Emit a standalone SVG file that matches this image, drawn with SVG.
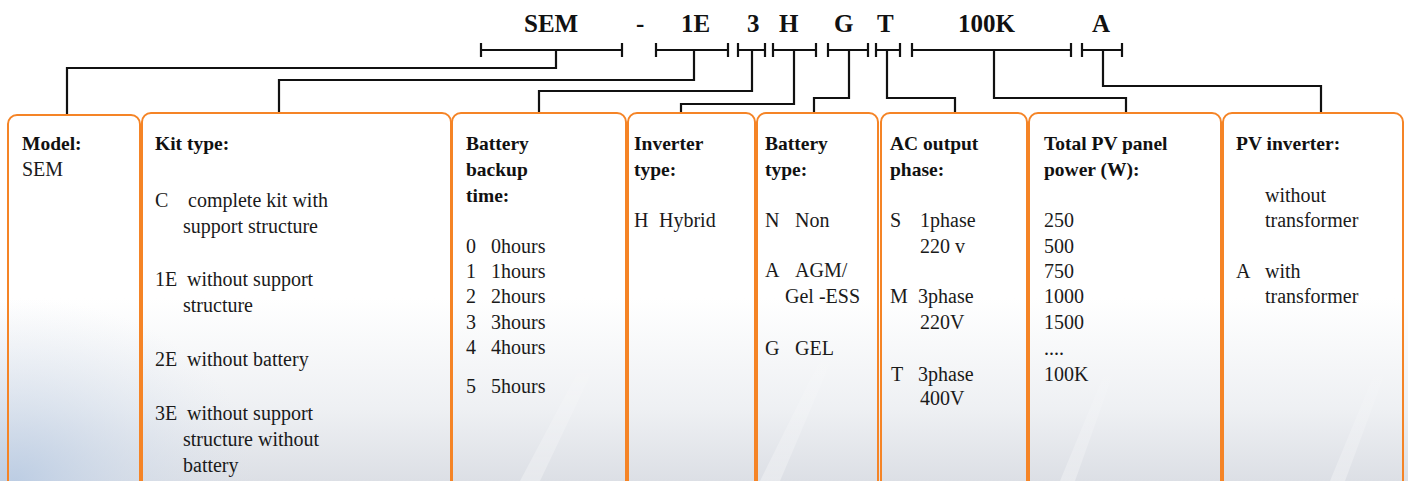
<svg xmlns="http://www.w3.org/2000/svg" width="1408" height="481" viewBox="0 0 1408 481">
<defs>
<linearGradient id="bg" x1="0" y1="0" x2="0" y2="1">
<stop offset="0" stop-color="#ffffff"/>
<stop offset="0.62" stop-color="#ffffff"/>
<stop offset="0.85" stop-color="#eef0f3"/>
<stop offset="1" stop-color="#dcdfe5"/>
</linearGradient>
<radialGradient id="blue" cx="0.02" cy="1" r="0.35" gradientTransform="scale(1,2.9) translate(0,-0.655)">
<stop offset="0" stop-color="#b9cbe3" stop-opacity="0.9"/>
<stop offset="1" stop-color="#dfe6f0" stop-opacity="0"/>
</radialGradient>
<linearGradient id="streak" x1="0" y1="1" x2="0" y2="0">
<stop offset="0" stop-color="#ffffff" stop-opacity="0.8"/>
<stop offset="1" stop-color="#ffffff" stop-opacity="0"/>
</linearGradient>
</defs>
<style>
.box{fill:none;stroke:#F58426;stroke-width:2}
.ln{fill:none;stroke:#111;stroke-width:2.2;stroke-linecap:square}
.hd{font-family:"Liberation Serif",serif;font-weight:bold;font-size:25px;fill:#111}
.b{font-family:"Liberation Serif",serif;font-weight:bold;font-size:19.5px;fill:#111}
.t{font-family:"Liberation Serif",serif;font-size:20px;fill:#1a1a1a}
</style>
<rect x="0" y="0" width="1408" height="481" fill="url(#bg)"/>
<rect x="0" y="300" width="700" height="181" fill="url(#blue)"/>
<g opacity="0.4">
<path d="M520 481 L600 330 L612 330 L540 481 Z" fill="url(#streak)"/>
<path d="M760 481 L830 340 L840 340 L780 481 Z" fill="url(#streak)"/>
<path d="M1060 481 L1110 360 L1118 360 L1075 481 Z" fill="url(#streak)"/>
<path d="M1330 481 L1380 360 L1390 360 L1345 481 Z" fill="url(#streak)"/>
</g>

<g id="header">
<text class="hd" x="524" y="32">SEM</text>
<text class="hd" x="636" y="32">-</text>
<text class="hd" x="681" y="32">1E</text>
<text class="hd" x="747" y="32">3</text>
<text class="hd" x="779" y="32">H</text>
<text class="hd" x="834" y="32">G</text>
<text class="hd" x="877" y="32">T</text>
<text class="hd" x="958" y="32">100K</text>
<text class="hd" x="1092" y="32">A</text>
</g>

<g id="connectors">
<path class="ln" d="M481 50 H622 M481 44 V56 M622 44 V56"/>
<path class="ln" d="M556 50 V68 H67 V115"/>
<path class="ln" d="M656 50 H728 M656 44 V56 M728 44 V56"/>
<path class="ln" d="M694 50 V80 H279 V113"/>
<path class="ln" d="M738 50 H765 M738 44 V56 M765 44 V56"/>
<path class="ln" d="M752 50 V91 H539 V113"/>
<path class="ln" d="M773 50 H816 M773 44 V56 M816 44 V56"/>
<path class="ln" d="M794 50 V104 H681 V113"/>
<path class="ln" d="M828 50 H868 M828 44 V56 M868 44 V56"/>
<path class="ln" d="M849 50 V98 H814 V113"/>
<path class="ln" d="M876 50 H900 M876 44 V56 M900 44 V56"/>
<path class="ln" d="M887 50 V98 H955 V113"/>
<path class="ln" d="M912 50 H1071 M912 44 V56 M1071 44 V56"/>
<path class="ln" d="M994 50 V98 H1126 V113"/>
<path class="ln" d="M1082 50 H1122 M1082 44 V56 M1122 44 V56"/>
<path class="ln" d="M1103 50 V86 H1321 V113"/>
</g>

<g id="model">
<rect class="box" x="8" y="115" width="132" height="420" rx="9"/>
<text class="b" x="22" y="150">Model:</text>
<text class="t" x="22" y="176">SEM</text>
</g>

<g id="kit">
<rect class="box" x="142" y="113" width="309" height="420" rx="9"/>
<text class="b" x="155" y="150">Kit type:</text>
<text class="t" x="155" y="207">C</text>
<text class="t" x="188" y="207">complete kit with</text>
<text class="t" x="183" y="233">support structure</text>
<text class="t" x="155" y="286">1E</text>
<text class="t" x="187" y="286">without support</text>
<text class="t" x="183" y="312">structure</text>
<text class="t" x="155" y="366">2E</text>
<text class="t" x="187" y="366">without battery</text>
<text class="t" x="155" y="420">3E</text>
<text class="t" x="187" y="420">without support</text>
<text class="t" x="183" y="446">structure without</text>
<text class="t" x="183" y="472">battery</text>
</g>

<g id="backup">
<rect class="box" x="452" y="113" width="174" height="420" rx="9"/>
<text class="b" x="466" y="150">Battery</text>
<text class="b" x="466" y="176">backup</text>
<text class="b" x="466" y="202">time:</text>
<text class="t" x="466" y="253">0</text><text class="t" x="491" y="253">0hours</text>
<text class="t" x="466" y="278">1</text><text class="t" x="491" y="278">1hours</text>
<text class="t" x="466" y="303">2</text><text class="t" x="491" y="303">2hours</text>
<text class="t" x="466" y="329">3</text><text class="t" x="491" y="329">3hours</text>
<text class="t" x="466" y="354">4</text><text class="t" x="491" y="354">4hours</text>
<text class="t" x="466" y="393">5</text><text class="t" x="491" y="393">5hours</text>
</g>

<g id="inverter">
<rect class="box" x="628" y="113" width="127" height="420" rx="9"/>
<text class="b" x="634" y="150">Inverter</text>
<text class="b" x="634" y="176">type:</text>
<text class="t" x="634" y="227">H</text><text class="t" x="659" y="227">Hybrid</text>
</g>

<g id="battery">
<rect class="box" x="757" y="113" width="121" height="420" rx="9"/>
<text class="b" x="765" y="150">Battery</text>
<text class="b" x="765" y="176">type:</text>
<text class="t" x="765" y="227">N</text><text class="t" x="795" y="227">Non</text>
<text class="t" x="765" y="277">A</text><text class="t" x="795" y="277">AGM/</text>
<text class="t" x="785" y="303">Gel -ESS</text>
<text class="t" x="765" y="355">G</text><text class="t" x="795" y="355">GEL</text>
</g>

<g id="ac">
<rect class="box" x="881" y="113" width="146" height="420" rx="9"/>
<text class="b" x="890" y="150">AC output</text>
<text class="b" x="890" y="176">phase:</text>
<text class="t" x="890" y="227">S</text><text class="t" x="920" y="227">1phase</text>
<text class="t" x="920" y="253">220 v</text>
<text class="t" x="890" y="303">M</text><text class="t" x="918" y="303">3phase</text>
<text class="t" x="920" y="329">220V</text>
<text class="t" x="891" y="381">T</text><text class="t" x="918" y="381">3phase</text>
<text class="t" x="920" y="405">400V</text>
</g>

<g id="pvpower">
<rect class="box" x="1029" y="113" width="192" height="420" rx="9"/>
<text class="b" x="1044" y="150">Total PV panel</text>
<text class="b" x="1044" y="176">power (W):</text>
<text class="t" x="1044" y="227">250</text>
<text class="t" x="1044" y="253">500</text>
<text class="t" x="1044" y="278">750</text>
<text class="t" x="1044" y="303">1000</text>
<text class="t" x="1044" y="329">1500</text>
<text class="t" x="1044" y="355">....</text>
<text class="t" x="1044" y="381">100K</text>
</g>

<g id="pvinverter">
<rect class="box" x="1223" y="113" width="180" height="420" rx="9"/>
<text class="b" x="1236" y="150">PV inverter:</text>
<text class="t" x="1265" y="202">without</text>
<text class="t" x="1265" y="227">transformer</text>
<text class="t" x="1236" y="278">A</text><text class="t" x="1265" y="278">with</text>
<text class="t" x="1265" y="303">transformer</text>
</g>
</svg>
